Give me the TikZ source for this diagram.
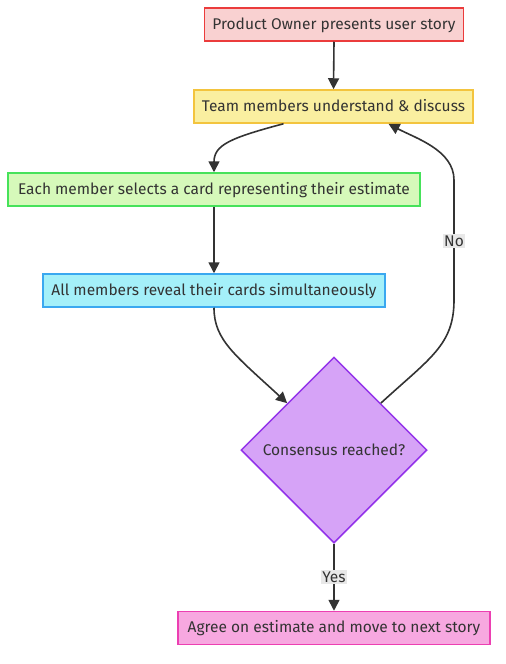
\documentclass[tikz,border=0pt]{standalone}
\usepackage{fontspec}
\setmainfont{Fira Sans}
\usetikzlibrary{arrows.meta,shapes.geometric}
\definecolor{txt}{HTML}{333333}
\definecolor{ln}{HTML}{333333}
\tikzset{
  box/.style={draw, line width=1.5pt, minimum height=33pt, inner xsep=8pt, text height=10pt, text depth=1pt, text=txt, font=\fontsize{15.5}{18}\selectfont},
  arr/.style={draw=ln, line width=1.6pt, -{Triangle[length=11pt,width=11pt]}},
  lbl/.style={fill=gray!18, inner sep=1.5pt, text=txt, font=\fontsize{15.5}{18}\selectfont},
}
\begin{document}
\begin{tikzpicture}[x=1pt,y=-1pt]
\useasboundingbox (0,0) rectangle (506,664);
\node[box, fill={rgb,255:red,249;green,209;blue,209}, draw={rgb,255:red,235;green,60;blue,60}, minimum width=258pt] (n1) at (334,24.5) {Product Owner presents user story};
\node[box, fill={rgb,255:red,250;green,239;blue,160}, draw={rgb,255:red,243;green,196;blue,62}, minimum width=275pt] (n2) at (333.5,106.5) {Team members understand \& discuss};
\node[box, fill={rgb,255:red,214;green,249;blue,186}, draw={rgb,255:red,70;green,226;blue,90}, minimum width=412pt] (n3) at (214,189.5) {Each member selects a card representing their estimate};
\node[box, fill={rgb,255:red,164;green,240;blue,249}, draw={rgb,255:red,58;green,168;blue,240}, minimum width=342pt] (n4) at (214,290.5) {All members reveal their cards simultaneously};
\node[diamond, draw={rgb,255:red,147;green,51;blue,234}, fill={rgb,255:red,214;green,163;blue,247}, line width=1.5pt, minimum width=186pt, minimum height=186pt, inner sep=0pt, text=txt, font=\fontsize{15.5}{18}\selectfont] (d) at (334,450) {Consensus reached?};
\node[box, fill={rgb,255:red,247;green,168;blue,224}, draw={rgb,255:red,236;green,63;blue,178}, minimum width=312pt] (n6) at (334,628) {Agree on estimate and move to next story};

\draw[arr] (n1.south) -- (n2.north);
\draw[arr] ([xshift=-50pt]n2.south) .. controls (230,138) and (214,145) .. (214,162) -- (n3.north);
\draw[arr] (n3.south) -- (n4.north);
\draw[arr] (n4.south) .. controls (214,340) and (235,355) .. (d.north west);
\draw[arr] (d.north east) .. controls (430,358) and (454,345) .. (454,300) -- (454,180) .. controls (454,150) and (415,138) .. ([xshift=55pt]n2.south);
\node[lbl] (no) at (454,241) {No};
\draw[arr] (d.south) -- (n6.north);
\node[lbl] (yes) at (334,577) {Yes};
\end{tikzpicture}
\end{document}
